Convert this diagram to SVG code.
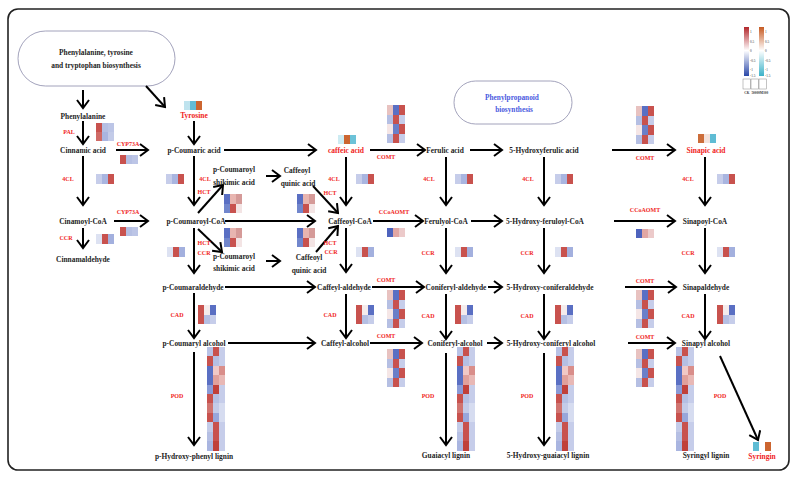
<svg xmlns="http://www.w3.org/2000/svg" xmlns:xlink="http://www.w3.org/1999/xlink" width="797" height="478" viewBox="0 0 797 478">
<style>
.t{font-family:"Liberation Serif","Times New Roman",serif;font-weight:bold;font-size:7.4px;text-anchor:middle;fill:#1e1e1e}
.m{font-family:"Liberation Serif","Times New Roman",serif;font-weight:bold;font-size:7.5px;text-anchor:middle;fill:#f01e23}
.e{font-family:"Liberation Serif","Times New Roman",serif;font-weight:bold;font-size:6px;text-anchor:middle;fill:#f01e23}
.b{font-family:"Liberation Serif","Times New Roman",serif;font-weight:bold;font-size:7.3px;text-anchor:middle;fill:#4a5be0}
.lg{font-family:"Liberation Serif","Times New Roman",serif;font-size:3.4px;fill:#333}
.c line,.c polyline{stroke:#000;stroke-width:2;fill:none;marker-end:url(#ah)}
rect.h{shape-rendering:crispEdges}
</style>
<defs>
<marker id="ah" viewBox="-1 -7 11 14" refX="8" refY="0" markerWidth="11" markerHeight="14" markerUnits="userSpaceOnUse" orient="auto">
<path d="M0,-6 L8,0 L0,6" fill="none" stroke="#000" stroke-width="2"/>
</marker>
<linearGradient id="gr1" x1="0" y1="0" x2="0" y2="1"><stop offset="0" stop-color="#b2262b"/><stop offset="0.48" stop-color="#ffffff"/><stop offset="1" stop-color="#2a48a8"/></linearGradient>
<linearGradient id="gr2" x1="0" y1="0" x2="0" y2="1"><stop offset="0" stop-color="#c65a22"/><stop offset="0.48" stop-color="#ffffff"/><stop offset="1" stop-color="#3cb2c8"/></linearGradient>
<g id="h4cl"><rect class="h" x="0" width="6" height="10" fill="#c6cdea"/><rect class="h" x="6" width="6" height="10" fill="#a9b5e0"/><rect class="h" x="12" width="6" height="10" fill="#c8524e"/></g>
<g id="hccr"><rect class="h" x="0" width="6" height="10" fill="#dde2f2"/><rect class="h" x="6" width="6" height="10" fill="#c8524e"/><rect class="h" x="12" width="6" height="10" fill="#a3b0de"/></g>
<g id="hcyp"><rect class="h" x="0" width="6" height="9" fill="#c8524e"/><rect class="h" x="6" width="6" height="9" fill="#b5bfe3"/><rect class="h" x="12" width="6" height="9" fill="#bcc5e6"/></g>
<g id="hpal"><rect class="h" x="0" y="0" width="6" height="9" fill="#c8524e"/><rect class="h" x="6" y="0" width="6" height="9" fill="#b5bfe3"/><rect class="h" x="12" y="0" width="6" height="9" fill="#bcc5e6"/><rect class="h" x="0" y="9" width="6" height="9" fill="#cf6a66"/><rect class="h" x="6" y="9" width="6" height="9" fill="#a9b5e0"/><rect class="h" x="12" y="9" width="6" height="9" fill="#c3cbe8"/></g>
<g id="hccoa"><rect class="h" x="0" width="6" height="9" fill="#4e63bd"/><rect class="h" x="6" width="6" height="9" fill="#e2a7a4"/><rect class="h" x="12" width="6" height="9" fill="#eccaca"/></g>
<g id="hcad"><rect class="h" x="0" y="0" width="6" height="9.5" fill="#c8524e"/><rect class="h" x="6" y="0" width="6" height="9.5" fill="#f5ecec"/><rect class="h" x="12" y="0" width="6" height="9.5" fill="#5a6fc3"/><rect class="h" x="0" y="9.5" width="6" height="9.5" fill="#c8524e"/><rect class="h" x="6" y="9.5" width="6" height="9.5" fill="#b5bfe3"/><rect class="h" x="12" y="9.5" width="6" height="9.5" fill="#c6cdea"/></g>
<g id="hhct"><rect class="h" x="0" y="0" width="6" height="9.5" fill="#5a6fc3"/><rect class="h" x="6" y="0" width="6" height="9.5" fill="#e8b5b0"/><rect class="h" x="12" y="0" width="6" height="9.5" fill="#d59a98"/><rect class="h" x="0" y="9.5" width="6" height="9.5" fill="#7186cc"/><rect class="h" x="6" y="9.5" width="6" height="9.5" fill="#c8524e"/><rect class="h" x="12" y="9.5" width="6" height="9.5" fill="#f3e4e4"/></g>
<g id="hcomt">
<rect class="h" x="0" y="0" width="6" height="9.5" fill="#e8c2c0"/><rect class="h" x="6" y="0" width="6" height="9.5" fill="#5a6fc3"/><rect class="h" x="12" y="0" width="6" height="9.5" fill="#c8524e"/>
<rect class="h" x="0" y="9.5" width="6" height="9.5" fill="#b5bfe3"/><rect class="h" x="6" y="9.5" width="6" height="9.5" fill="#c8524e"/><rect class="h" x="12" y="9.5" width="6" height="9.5" fill="#c6cdea"/>
<rect class="h" x="0" y="19" width="6" height="9.5" fill="#f5e6e6"/><rect class="h" x="6" y="19" width="6" height="9.5" fill="#6b7fc8"/><rect class="h" x="12" y="19" width="6" height="9.5" fill="#c8524e"/>
<rect class="h" x="0" y="28.5" width="6" height="9.5" fill="#b5bfe3"/><rect class="h" x="6" y="28.5" width="6" height="9.5" fill="#c8524e"/><rect class="h" x="12" y="28.5" width="6" height="9.5" fill="#c6cdea"/>
</g>
<g id="hpod">
<rect class="h" x="0" y="0" width="6" height="9.5" fill="#b8c2e6"/><rect class="h" x="6" y="0" width="6" height="9.5" fill="#c8524e"/><rect class="h" x="12" y="0" width="6" height="9.5" fill="#c6cdea"/>
<rect class="h" x="0" y="9.4" width="6" height="9.5" fill="#c8524e"/><rect class="h" x="6" y="9.4" width="6" height="9.5" fill="#b5bfe3"/><rect class="h" x="12" y="9.4" width="6" height="9.5" fill="#c6cdea"/>
<rect class="h" x="0" y="18.8" width="6" height="9.5" fill="#5a6fc3"/><rect class="h" x="6" y="18.8" width="6" height="9.5" fill="#f0c8c6"/><rect class="h" x="12" y="18.8" width="6" height="9.5" fill="#d98e8a"/>
<rect class="h" x="0" y="28.2" width="6" height="9.5" fill="#5a6fc3"/><rect class="h" x="6" y="28.2" width="6" height="9.5" fill="#e0a09c"/><rect class="h" x="12" y="28.2" width="6" height="9.5" fill="#e8b8b5"/>
<rect class="h" x="0" y="37.6" width="6" height="9.5" fill="#8a9ad6"/><rect class="h" x="6" y="37.6" width="6" height="9.5" fill="#c0403a"/><rect class="h" x="12" y="37.6" width="6" height="9.5" fill="#c6cdea"/>
<rect class="h" x="0" y="47" width="6" height="9.5" fill="#c8524e"/><rect class="h" x="6" y="47" width="6" height="9.5" fill="#b5bfe3"/><rect class="h" x="12" y="47" width="6" height="9.5" fill="#c6cdea"/>
<rect class="h" x="0" y="56.4" width="6" height="9.5" fill="#d07470"/><rect class="h" x="6" y="56.4" width="6" height="9.5" fill="#c3cbe8"/><rect class="h" x="12" y="56.4" width="6" height="9.5" fill="#d6dcf0"/>
<rect class="h" x="0" y="65.8" width="6" height="9.5" fill="#c8524e"/><rect class="h" x="6" y="65.8" width="6" height="9.5" fill="#98a6da"/><rect class="h" x="12" y="65.8" width="6" height="9.5" fill="#d6dcf0"/>
<rect class="h" x="0" y="75.2" width="6" height="9.5" fill="#c3cbe8"/><rect class="h" x="6" y="75.2" width="6" height="9.5" fill="#c8524e"/><rect class="h" x="12" y="75.2" width="6" height="9.5" fill="#c6cdea"/>
<rect class="h" x="0" y="84.6" width="6" height="9.5" fill="#b5bfe3"/><rect class="h" x="6" y="84.6" width="6" height="9.5" fill="#c8524e"/><rect class="h" x="12" y="84.6" width="6" height="9.5" fill="#c6cdea"/>
<rect class="h" x="0" y="94" width="6" height="9.5" fill="#a9b5e0"/><rect class="h" x="6" y="94" width="6" height="9.5" fill="#c0403a"/><rect class="h" x="12" y="94" width="6" height="9.5" fill="#c6cdea"/>
</g>
</defs>
<rect width="797" height="478" fill="#ffffff"/>
<rect x="8" y="9" width="781" height="461" rx="10" fill="none" stroke="#222" stroke-width="1.6"/>

<g id="pathway-boxes">
<g id="box-aa"><rect x="18" y="31" width="157" height="55" rx="27.5" fill="#fff" stroke="#8a8aaa" stroke-width="0.8"/>
<text class="t" x="96" y="55">Phenylalanine, tyrosine</text><text class="t" x="96" y="68">and tryptophan biosynthesis</text></g>
<g id="box-pp"><rect x="454" y="81" width="118" height="43" rx="21.5" fill="#fff" stroke="#8a8aaa" stroke-width="0.8"/>
<text class="b" x="512" y="99.5">Phenylpropanoid</text><text class="b" x="514" y="111.5">biosynthesis</text></g>
</g>

<g id="connectors" class="c">
<line x1="83" y1="90" x2="83" y2="108"/>
<line x1="146" y1="86" x2="165" y2="107"/>
<line x1="83" y1="121" x2="83" y2="144"/>
<line x1="83" y1="156" x2="83" y2="205"/>
<line x1="83" y1="228" x2="83" y2="248"/>
<line x1="116" y1="150" x2="148" y2="150"/>
<line x1="114" y1="221" x2="148" y2="221"/>
<line x1="194" y1="121" x2="194" y2="144"/>
<line x1="194" y1="156" x2="194" y2="205"/>
<line x1="194" y1="228" x2="194" y2="273"/>
<line x1="194" y1="293" x2="194" y2="338"/>
<line x1="194" y1="352" x2="194" y2="445"/>
<line x1="224" y1="150" x2="316" y2="150"/>
<line x1="370" y1="150" x2="425" y2="150"/>
<line x1="470" y1="150" x2="502" y2="150"/>
<line x1="612" y1="150" x2="675" y2="150"/>
<line x1="225" y1="221" x2="315" y2="221"/>
<line x1="373" y1="221" x2="423" y2="221"/>
<line x1="471" y1="221" x2="502" y2="221"/>
<line x1="614" y1="221" x2="675" y2="221"/>
<line x1="225" y1="287" x2="315" y2="287"/>
<line x1="372" y1="287" x2="424" y2="287"/>
<line x1="488" y1="287" x2="502" y2="287"/>
<line x1="625" y1="287" x2="676" y2="287"/>
<line x1="228" y1="343" x2="315" y2="343"/>
<line x1="370" y1="343" x2="422" y2="343"/>
<line x1="487" y1="343" x2="502" y2="343"/>
<line x1="628" y1="343" x2="675" y2="343"/>
<line x1="198" y1="213" x2="223" y2="185"/>
<line x1="198" y1="229" x2="222" y2="252"/>
<line x1="266" y1="176" x2="280" y2="176"/>
<line x1="266" y1="261" x2="280" y2="261"/>
<line x1="313" y1="186" x2="338" y2="213"/>
<line x1="316" y1="252" x2="338" y2="226"/>
<line x1="346" y1="157" x2="346" y2="205"/>
<line x1="346" y1="228" x2="346" y2="272"/>
<line x1="346" y1="294" x2="346" y2="338"/>
<line x1="446" y1="157" x2="446" y2="205"/>
<line x1="446" y1="228" x2="446" y2="273"/>
<line x1="446" y1="294" x2="446" y2="339"/>
<line x1="446" y1="353" x2="446" y2="445"/>
<line x1="544" y1="157" x2="544" y2="205"/>
<line x1="544" y1="228" x2="544" y2="273"/>
<line x1="544" y1="294" x2="544" y2="339"/>
<line x1="544" y1="353" x2="544" y2="445"/>
<line x1="705" y1="157" x2="705" y2="205"/>
<line x1="705" y1="228" x2="705" y2="273"/>
<line x1="705" y1="294" x2="705" y2="339"/>
<line x1="720" y1="356" x2="758" y2="440"/>
</g>

<g id="nodes">
<g id="n-phenylalanine"><text class="t" x="83" y="118.6">Phenylalanine</text></g>
<g id="n-cinnamic"><text class="t" x="83" y="152.6">Cinnamic acid</text></g>
<g id="n-cinamoylcoa"><text class="t" x="83" y="223.6">Cinamoyl-CoA</text></g>
<g id="n-cinnamaldehyde"><text class="t" x="83" y="261.6">Cinnamaldehyde</text></g>
<g id="n-tyrosine"><text class="m" x="194" y="117.6">Tyrosine</text></g>
<g id="n-pcoumaric"><text class="t" x="194" y="152.6">p-Coumaric acid</text></g>
<g id="n-pcoumaroylcoa"><text class="t" x="196" y="223.6">p-Coumaroyl-CoA</text></g>
<g id="n-pcoumaraldehyde"><text class="t" x="193" y="289.6">p-Coumaraldehyde</text></g>
<g id="n-pcoumarylalc"><text class="t" x="194" y="345.6">p-Coumaryl alcohol</text></g>
<g id="n-phlignin"><text class="t" x="194" y="458.6">p-Hydroxy-phenyl lignin</text></g>
<g id="n-pcs1"><text class="t" x="234" y="171.6">p-Coumaroyl</text><text class="t" x="234" y="184.6">shikimic acid</text></g>
<g id="n-cq1"><text class="t" x="297" y="172.6">Caffeoyl</text><text class="t" x="298" y="185.6">quinic acid</text></g>
<g id="n-pcs2"><text class="t" x="234" y="258.6">p-Coumaroyl</text><text class="t" x="234" y="270.6">shikimic acid</text></g>
<g id="n-cq2"><text class="t" x="309" y="259.6">Caffeoyl</text><text class="t" x="309" y="272.6">quinic acid</text></g>
<g id="n-caffeic"><text class="m" x="346" y="152.6">caffeic acid</text></g>
<g id="n-caffeoylcoa"><text class="t" x="350" y="223.6">Caffeoyl-CoA</text></g>
<g id="n-caffeylald"><text class="t" x="344" y="289.6">Caffeyl-aldehyde</text></g>
<g id="n-caffeylalc"><text class="t" x="345" y="345.6">Caffeyl-alcohol</text></g>
<g id="n-ferulic"><text class="t" x="445" y="152.6">Ferulic acid</text></g>
<g id="n-ferulylcoa"><text class="t" x="446" y="223.6">Ferulyol-CoA</text></g>
<g id="n-coniferylald"><text class="t" x="456" y="289.6">Coniferyl-aldehyde</text></g>
<g id="n-coniferylalc"><text class="t" x="455" y="345.6">Coniferyl-alcohol</text></g>
<g id="n-guaiacyl"><text class="t" x="446" y="457.6">Guaiacyl lignin</text></g>
<g id="n-5hfa"><text class="t" x="544" y="152.6">5-Hydroxyferulic acid</text></g>
<g id="n-5hfcoa"><text class="t" x="545" y="223.6">5-Hydroxy-feruloyl-CoA</text></g>
<g id="n-5hcald"><text class="t" x="550" y="289.6">5-Hydroxy-coniferaldehyde</text></g>
<g id="n-5hcalc"><text class="t" x="551" y="345.6">5-Hydroxy-coniferyl alcohol</text></g>
<g id="n-5hglignin"><text class="t" x="548" y="457.6">5-Hydroxy-guaiacyl lignin</text></g>
<g id="n-sinapic"><text class="m" x="706" y="152.6">Sinapic acid</text></g>
<g id="n-sinapoylcoa"><text class="t" x="705" y="223.6">Sinapoyl-CoA</text></g>
<g id="n-sinapald"><text class="t" x="706" y="289.6">Sinapaldehyde</text></g>
<g id="n-sinapylalc"><text class="t" x="706" y="345.6">Sinapyl alcohol</text></g>
<g id="n-syringyl"><text class="t" x="706" y="457.6">Syringyl lignin</text></g>
<g id="n-syringin"><text class="m" x="762" y="458.6">Syringin</text></g>
</g>

<g id="enzymes">
<text class="e" x="69" y="134">PAL</text>
<text class="e" x="128" y="146">CYP73A</text>
<text class="e" x="128" y="214">CYP73A</text>
<text class="e" x="68" y="181">4CL</text>
<text class="e" x="205" y="181">4CL</text>
<text class="e" x="334" y="181">4CL</text>
<text class="e" x="429" y="181">4CL</text>
<text class="e" x="528" y="181">4CL</text>
<text class="e" x="688" y="181">4CL</text>
<text class="e" x="204" y="194">HCT</text>
<text class="e" x="330" y="195">HCT</text>
<text class="e" x="204" y="245">HCT</text>
<text class="e" x="330" y="245">HCT</text>
<text class="e" x="66" y="240">CCR</text>
<text class="e" x="204" y="255">CCR</text>
<text class="e" x="331" y="254">CCR</text>
<text class="e" x="428" y="255">CCR</text>
<text class="e" x="527" y="255">CCR</text>
<text class="e" x="688" y="255">CCR</text>
<text class="e" x="177" y="317">CAD</text>
<text class="e" x="330" y="317">CAD</text>
<text class="e" x="428" y="318">CAD</text>
<text class="e" x="527" y="318">CAD</text>
<text class="e" x="688" y="318">CAD</text>
<text class="e" x="177" y="398">POD</text>
<text class="e" x="428" y="398">POD</text>
<text class="e" x="527" y="398">POD</text>
<text class="e" x="720" y="398">POD</text>
<text class="e" x="386" y="159">COMT</text>
<text class="e" x="386" y="282">COMT</text>
<text class="e" x="386" y="338">COMT</text>
<text class="e" x="645" y="160">COMT</text>
<text class="e" x="645" y="283">COMT</text>
<text class="e" x="645" y="339">COMT</text>
<text class="e" x="394" y="214">CCoAOMT</text>
<text class="e" x="645" y="212">CCoAOMT</text>
</g>

<g id="heatmaps">
<use xlink:href="#hpal" x="96" y="123"/>
<use xlink:href="#hcyp" x="120" y="155"/>
<use xlink:href="#h4cl" x="96" y="174"/>
<use xlink:href="#hcyp" x="120" y="227"/>
<use xlink:href="#hccr" x="96" y="234"/>
<g id="hm-tyrosine"><rect class="h" x="184" y="101" width="6" height="9" fill="#bfe3ee"/><rect class="h" x="190" y="101" width="6" height="9" fill="#62bcd6"/><rect class="h" x="196" y="101" width="6" height="9" fill="#cc6530"/></g>
<use xlink:href="#h4cl" x="166" y="174"/>
<use xlink:href="#hccr" x="167" y="247"/>
<use xlink:href="#hcad" x="198" y="305"/>
<use xlink:href="#hpod" x="207" y="347"/>
<use xlink:href="#hhct" x="224" y="194"/>
<use xlink:href="#hhct" x="297" y="194"/>
<use xlink:href="#hhct" x="224" y="228"/>
<use xlink:href="#hhct" x="297" y="228"/>
<g id="hm-caffeic"><rect class="h" x="338" y="135" width="6" height="9" fill="#cdebf2"/><rect class="h" x="344" y="135" width="6" height="9" fill="#cc6530"/><rect class="h" x="350" y="135" width="6" height="9" fill="#6cc2d8"/></g>
<use xlink:href="#h4cl" x="356" y="174"/>
<use xlink:href="#hccr" x="356" y="247"/>
<use xlink:href="#hcad" x="356" y="305"/>
<use xlink:href="#hcomt" x="387" y="105"/>
<use xlink:href="#hccoa" x="387" y="228"/>
<use xlink:href="#hcomt" x="387" y="290"/>
<use xlink:href="#hcomt" x="387" y="349"/>
<use xlink:href="#h4cl" x="455" y="174"/>
<use xlink:href="#hccr" x="455" y="247"/>
<use xlink:href="#hcad" x="455" y="305"/>
<use xlink:href="#hpod" x="457" y="347"/>
<use xlink:href="#h4cl" x="555" y="174"/>
<use xlink:href="#hccr" x="555" y="247"/>
<use xlink:href="#hcad" x="555" y="305"/>
<use xlink:href="#hpod" x="556" y="347"/>
<use xlink:href="#hcomt" x="636" y="106"/>
<use xlink:href="#hccoa" x="636" y="229"/>
<use xlink:href="#hcomt" x="636" y="290"/>
<use xlink:href="#hcomt" x="636" y="349"/>
<g id="hm-sinapic"><rect class="h" x="698" y="134" width="6" height="9" fill="#cc6d3a"/><rect class="h" x="704" y="134" width="6" height="9" fill="#f3e2dc"/><rect class="h" x="710" y="134" width="6" height="9" fill="#5fbcd4"/></g>
<use xlink:href="#h4cl" x="717" y="174"/>
<use xlink:href="#hccr" x="717" y="247"/>
<use xlink:href="#hcad" x="717" y="305"/>
<use xlink:href="#hpod" x="676" y="347"/>
<g id="hm-syringin"><rect class="h" x="753" y="442" width="6" height="9" fill="#5fbcd4"/><rect class="h" x="765" y="442" width="6" height="9" fill="#cc6530"/></g>
</g>

<g id="legend">
<rect x="744" y="27" width="5" height="49" fill="url(#gr1)"/>
<rect x="759" y="27" width="5" height="49" fill="url(#gr2)"/>
<g class="lg">
<text x="750" y="33">1</text><text x="750" y="43">0.5</text><text x="750" y="52">0</text><text x="750" y="62">-0.5</text><text x="750" y="71">-1</text><text x="750" y="77">-1.5</text>
<text x="765" y="33">1</text><text x="765" y="43">0.5</text><text x="765" y="52">0</text><text x="765" y="62">-0.5</text><text x="765" y="71">-1</text><text x="765" y="77">-1.5</text>
</g>
<rect x="743" y="79" width="7.5" height="10" fill="none" stroke="#888" stroke-width="0.5"/>
<rect x="751" y="79" width="7.5" height="10" fill="none" stroke="#888" stroke-width="0.5"/>
<rect x="759" y="79" width="7.5" height="10" fill="none" stroke="#888" stroke-width="0.5"/>
<g class="lg" text-anchor="middle" font-weight="bold"><text x="746.8" y="94" text-anchor="middle">CK</text><text x="754.8" y="94" text-anchor="middle">5000</text><text x="763" y="94" text-anchor="middle">SM300</text></g>
</g>
</svg>
